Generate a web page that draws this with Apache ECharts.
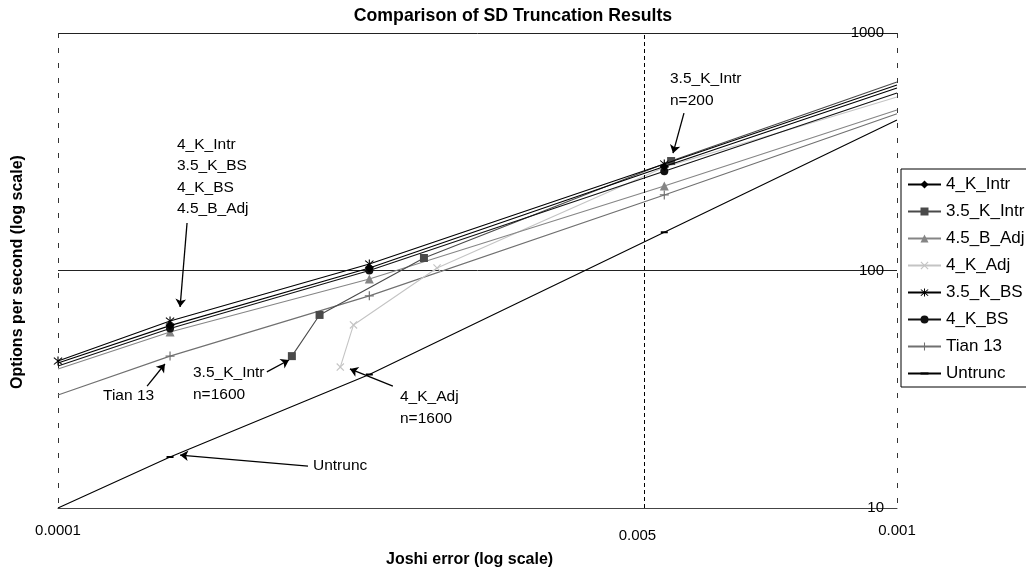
<!DOCTYPE html>
<html>
<head>
<meta charset="utf-8">
<script src="https://cdn.jsdelivr.net/npm/echarts@6/dist/echarts.min.js"></script>
<style>
    html, body { margin: 0; padding: 0; background: #fff; }
    #chart { width: 1026px; height: 573px; }
</style>
</head>
<body>
<div id="chart"></div>
<script>
var FONT = '"Liberation Sans", Arial, sans-serif';

// axis ticks
var xTickValues = [0.0001, 0.001];
var xTickLabels = ['0.0001', '0.001'];
var refError = 0.0005;
var refErrorLabel = '0.005';

// Joshi error (x) for most series: trend start, three runs, trend end
var commonErr = [0.0001, 0.000136, 0.000235, 0.000528, 0.001];
var k4IntrOps = [40.8, 58.6, 102.5, 274, 587];
var k35BsOps = [41.6, 61.3, 106.5, 281, 604];
var k4BsOps = [39.6, 57.0, 100.0, 262, 559];
var b45AdjOps = [38.5, 55.1, 92.1, 227, 474];
var tian13Ops = [29.9, 43.6, 78.2, 208, 457];
var untruncOps = [10, 16.4, 36.5, 145, 430];

// series with their own error values
var k35IntrErr = [0.000190, 0.000205, 0.000273, 0.000538, 0.001];
var k35IntrOps = [43.6, 65.0, 112.9, 289, 622];
var k4AdjErr = [0.000217, 0.000225, 0.000283, 0.000528, 0.001];
var k4AdjOps = [39.2, 59.0, 102.4, 272, 538];

var legendOrder = ['4_K_Intr', '3.5_K_Intr', '4.5_B_Adj', '4_K_Adj', '3.5_K_BS', '4_K_BS', 'Tian 13', 'Untrunc'];

var X_PATH = 'path://M1,0L5,4L9,0L10,1L6,5L10,9L9,10L5,6L1,10L0,9L4,5L0,1Z';
var STAR_PATH = 'path://M1,1L5,5L9,1L9.8,1.8L5.8,5.8L9.8,9.8L9,10.6L5,6.6L1,10.6L0.2,9.8L4.2,5.8L0.2,1.8Z' +
    'M4.4,0L5.6,0L5.6,11.4L4.4,11.4Z';
var PLUS_PATH = 'path://M4.35,0L5.65,0L5.65,4.35L10,4.35L10,5.65L5.65,5.65L5.65,10L4.35,10L4.35,5.65L0,5.65L0,4.35L4.35,4.35Z';
// short dash inside a square box (tiny corner specks keep the box square)
var DASH_PATH = 'path://M0,0L0.01,0L0,0.01Z M0,3.6L10,3.6L10,6.4L0,6.4Z M10,10L9.99,10L10,9.99Z';

function buildSeries(name, errs, ops, opts) {
    var data = [];
    for (var i = 0; i < errs.length; i++) {
        var item = {value: [errs[i], ops[i]]};
        if (opts.hidden.indexOf(i) >= 0) {
            item.symbol = 'none';
        }
        data.push(item);
    }
    return {
        name: name,
        type: 'line',
        data: data,
        symbol: opts.symbol,
        symbolSize: opts.size,
        showAllSymbol: true,
        z: opts.z,
        lineStyle: {color: opts.color, width: opts.width || 1.1},
        itemStyle: {color: opts.color},
        emphasis: {disabled: true}
    };
}

function arrow(x1, y1, x2, y2) {
    return [{coord: [x1, y1]}, {coord: [x2, y2]}];
}

var series = [
    buildSeries('Untrunc', commonErr, untruncOps, {symbol: DASH_PATH, size: 7, color: '#000', hidden: [0, 4], z: 2}),
    buildSeries('Tian 13', commonErr, tian13Ops, {symbol: PLUS_PATH, size: 9, color: '#707070', hidden: [0, 4], z: 3}),
    buildSeries('4_K_Adj', k4AdjErr, k4AdjOps, {symbol: X_PATH, size: 8, color: '#c4c4c4', hidden: [4], z: 3}),
    buildSeries('4.5_B_Adj', commonErr, b45AdjOps, {symbol: 'triangle', size: 9, color: '#858585', hidden: [0, 4], z: 4}),
    buildSeries('3.5_K_Intr', k35IntrErr, k35IntrOps, {symbol: 'rect', size: 8, color: '#4a4a4a', hidden: [4], z: 5}),
    buildSeries('4_K_BS', commonErr, k4BsOps, {symbol: 'circle', size: 8, color: '#111', hidden: [0, 4], z: 6}),
    buildSeries('4_K_Intr', commonErr, k4IntrOps, {symbol: 'diamond', size: 9, color: '#000', hidden: [0, 4], z: 6}),
    buildSeries('3.5_K_BS', commonErr, k35BsOps, {symbol: STAR_PATH, size: 9, color: '#000', hidden: [4], z: 7})
];

// annotation arrows and the reference line, in data units
series[0].markLine = {
    silent: true,
    animation: false,
    symbol: ['none', 'arrow'],
    symbolSize: 8,
    lineStyle: {color: '#000', width: 1.3, type: 'solid'},
    label: {show: false},
    data: [
        arrow(1.425e-4, 158.5, 1.398e-4, 70.2),
        arrow(5.573e-4, 460, 5.408e-4, 312),
        arrow(1.277e-4, 32.6, 1.341e-4, 40.4),
        arrow(1.774e-4, 37.4, 1.885e-4, 42.0),
        arrow(2.507e-4, 32.6, 2.228e-4, 38.5),
        arrow(1.986e-4, 15.0, 1.398e-4, 16.7),
        [
            {
                coord: [refError, 10],
                symbol: 'none',
                lineStyle: {color: '#000', width: 1, type: [4, 3]},
                label: {
                    show: true, position: 'start', formatter: refErrorLabel,
                    color: '#000', fontSize: 15, fontFamily: FONT, distance: 20, offset: [-7, 0]
                }
            },
            {coord: [refError, 1000], symbol: 'none'}
        ]
    ]
};

function note(text, x, y, lh) {
    return {
        type: 'text', left: x, top: y, silent: true,
        style: {text: text, fontSize: 15.5, fontFamily: FONT, fill: '#000', lineHeight: lh || 22}
    };
}

var option = {
    animation: false,
    backgroundColor: '#fff',
    title: {
        text: 'Comparison of SD Truncation Results',
        left: 'center',
        top: 2,
        textStyle: {fontSize: 17.7, fontWeight: 'bold', color: '#000', fontFamily: FONT}
    },
    legend: {
        data: legendOrder,
        orient: 'vertical',
        left: 901,
        top: 169,
        padding: [7, 40, 5, 6],
        itemGap: 10,
        itemWidth: 33,
        itemHeight: 10,
        borderColor: '#000',
        borderWidth: 1,
        backgroundColor: '#fff',
        textStyle: {fontSize: 17, color: '#000', fontFamily: FONT, lineHeight: 17},
        selectedMode: false
    },
    grid: {left: 58, right: 129, top: 33, bottom: 65},
    xAxis: {
        type: 'log',
        logBase: 10,
        min: xTickValues[0],
        max: xTickValues[1],
        axisLine: {show: true, lineStyle: {color: '#444'}},
        axisTick: {show: false},
        axisLabel: {
            margin: 15,
            fontSize: 15,
            color: '#000',
            fontFamily: FONT,
            showMinLabel: true,
            showMaxLabel: true,
            formatter: function (v) {
                for (var i = 0; i < xTickValues.length; i++) {
                    if (Math.abs(Math.log10(v) - Math.log10(xTickValues[i])) < 1e-6) {
                        return xTickLabels[i];
                    }
                }
                return '';
            }
        },
        splitLine: {show: true, lineStyle: {color: '#333', width: 1, type: [5, 10]}}
    },
    yAxis: {
        type: 'log',
        logBase: 10,
        min: 10,
        max: 1000,
        position: 'right',
        axisLine: {show: false},
        axisTick: {show: false},
        axisLabel: {
            inside: true, margin: 13, fontSize: 15, color: '#000', fontFamily: FONT,
            formatter: function (v) { return String(Math.round(v)); }
        },
        splitLine: {show: true, lineStyle: {color: '#222', width: 1}}
    },
    graphic: [
        note('4_K_Intr\n3.5_K_BS\n4_K_BS\n4.5_B_Adj', 177, 134, 21.3),
        note('3.5_K_Intr\nn=200', 670, 68),
        note('Tian 13', 103, 385),
        note('3.5_K_Intr\nn=1600', 193, 362),
        note('4_K_Adj\nn=1600', 400, 386, 21.5),
        note('Untrunc', 313, 455),
        {
            type: 'text', left: 386, top: 552, silent: true,
            style: {text: 'Joshi error (log scale)', fontSize: 16, fontWeight: 'bold', fill: '#000', fontFamily: FONT}
        },
        {
            type: 'text', x: 18, y: 272, rotation: Math.PI / 2, silent: true,
            style: {
                text: 'Options per second (log scale)', fontSize: 16, fontWeight: 'bold', fill: '#000',
                fontFamily: FONT, align: 'center', verticalAlign: 'middle'
            }
        }
    ],
    series: series
};

var chart = echarts.init(document.getElementById('chart'));
chart.setOption(option);
</script>
</body>
</html>
